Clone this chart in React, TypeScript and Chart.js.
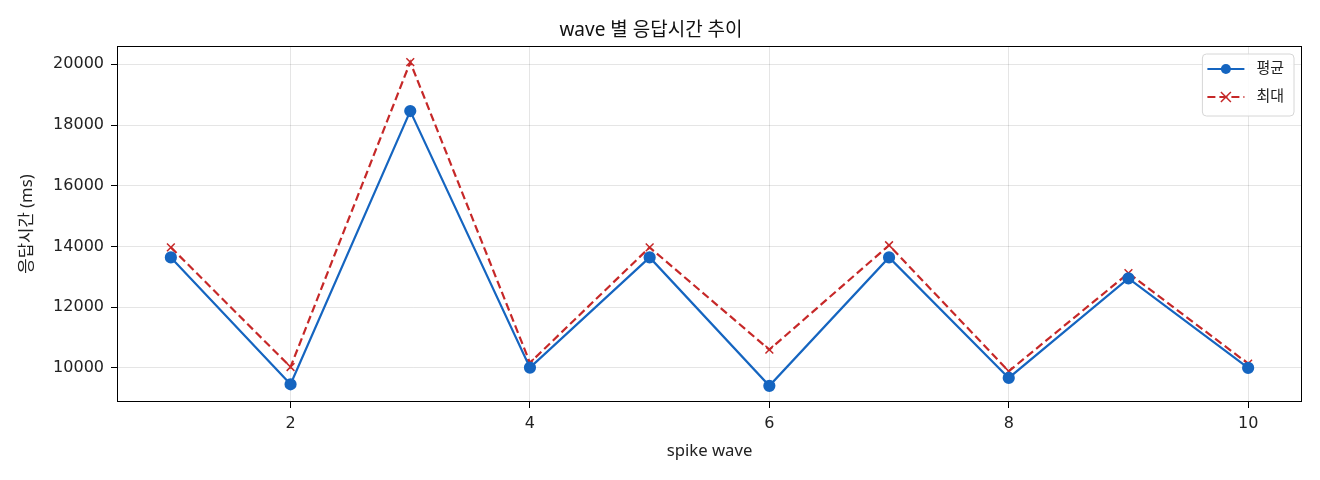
import { useEffect, useRef } from 'react';
import { Chart, registerables, ChartConfiguration, Plugin } from 'chart.js';

Chart.register(...registerables);

// wave numbers on the x axis
const waves = [1, 2, 3, 4, 5, 6, 7, 8, 9, 10];
// 평균 / 최대 응답시간 (ms)
const avgMs = [13640, 9460, 18460, 10010, 13640, 9410, 13640, 9670, 12950, 10000];
const maxMs = [13970, 10030, 20070, 10170, 13970, 10600, 14040, 9890, 13120, 10140];
const xTicks = [2, 4, 6, 8, 10];
const yTicks = [10000, 12000, 14000, 16000, 18000, 20000];

const FONT = "'Noto Sans', 'Noto Sans CJK KR', sans-serif";
const TICK_FONT = "'DejaVu Sans', sans-serif";
const BLUE = '#1565c0';
const RED = '#c62828';

// spines on all four sides + matplotlib style legend box
const framePlugin: Plugin<'line'> = {
  id: 'frame',
  afterDraw(chart) {
    const { ctx, chartArea } = chart;
    ctx.save();
    ctx.strokeStyle = '#000';
    ctx.lineWidth = 1;
    ctx.strokeRect(chartArea.left + 0.5, chartArea.top + 0.5, chartArea.width - 1, chartArea.height - 1);

    // legend
    ctx.font = `15px ${FONT}`;
    const items = chart.data.datasets;
    const textW = Math.max(...items.map(d => ctx.measureText(String(d.label)).width));
    const boxW = 5 + 37 + 12 + textW + 10;
    const boxH = 62;
    const bx = chartArea.right - 8 - boxW;
    const by = chartArea.top + 8;
    ctx.fillStyle = 'rgba(255,255,255,0.85)';
    ctx.strokeStyle = '#d6d6d6';
    ctx.beginPath();
    ctx.roundRect(bx, by, boxW, boxH, 4);
    ctx.fill();
    ctx.stroke();

    items.forEach((d: any, i) => {
      const cy = by + 15 + i * 28;
      const x0 = bx + 5;
      const x1 = x0 + 37;
      ctx.strokeStyle = d.borderColor;
      ctx.lineWidth = 2.2;
      ctx.setLineDash(d.borderDash || []);
      ctx.beginPath();
      ctx.moveTo(x0, cy);
      ctx.lineTo(x1, cy);
      ctx.stroke();
      ctx.setLineDash([]);
      const mx = (x0 + x1) / 2;
      if (d.pointStyle === 'crossRot') {
        ctx.lineWidth = 1.5;
        ctx.beginPath();
        ctx.moveTo(mx - 5, cy - 5);
        ctx.lineTo(mx + 5, cy + 5);
        ctx.moveTo(mx + 5, cy - 5);
        ctx.lineTo(mx - 5, cy + 5);
        ctx.stroke();
      } else {
        ctx.fillStyle = d.pointBackgroundColor;
        ctx.beginPath();
        ctx.arc(mx, cy, 5, 0, Math.PI * 2);
        ctx.fill();
      }
      ctx.fillStyle = '#222';
      ctx.textBaseline = 'middle';
      ctx.textAlign = 'left';
      ctx.fillText(String(d.label), x1 + 12, cy);
    });
    ctx.restore();
  },
};

const App = () => {
  const chartRef = useRef<HTMLCanvasElement>(null);

  useEffect(() => {
    document.body.style.margin = '0';
    if (!chartRef.current) return;
    const ctx = chartRef.current.getContext('2d');
    if (!ctx) return;

    const config: ChartConfiguration<'line'> = {
      type: 'line',
      data: {
        datasets: [
          {
            label: '평균',
            data: waves.map((w, i) => ({ x: w, y: avgMs[i] })),
            borderColor: BLUE,
            backgroundColor: BLUE,
            pointBackgroundColor: BLUE,
            pointBorderColor: BLUE,
            pointRadius: 5,
            pointStyle: 'circle',
            borderWidth: 2.2,
            fill: false,
          },
          {
            label: '최대',
            data: waves.map((w, i) => ({ x: w, y: maxMs[i] })),
            borderColor: RED,
            backgroundColor: RED,
            pointBorderColor: RED,
            pointBorderWidth: 1.5,
            pointRadius: 5.5,
            pointStyle: 'crossRot',
            borderWidth: 2.2,
            borderDash: [8, 4],
            fill: false,
          },
        ],
      },
      options: {
        animation: false,
        responsive: true,
        maintainAspectRatio: false,
        layout: { padding: { left: 0, right: 18, top: 0, bottom: 0 } },
        plugins: {
          legend: { display: false },
          tooltip: { enabled: false },
          title: {
            display: true,
            text: 'wave 별 응답시간 추이',
            color: '#111',
            font: { family: FONT, size: 19, weight: 'normal' },
            padding: { top: 19, bottom: 4.2 },
          },
        },
        scales: {
          x: {
            type: 'linear',
            min: 0.55,
            max: 10.45,
            afterBuildTicks: (s) => { s.ticks = xTicks.map(v => ({ value: v })); },
            afterFit: (s) => { s.height = 78; },
            ticks: { color: '#222', font: { family: TICK_FONT, size: 16 }, padding: 6 },
            grid: { color: 'rgba(0,0,0,0.1)', tickColor: '#000', tickLength: 6 },
            border: { display: false },
            title: {
              display: true,
              text: 'spike wave',
              color: '#222',
              font: { family: FONT, size: 16.7 },
              padding: { top: 0, bottom: 19 },
            },
          },
          y: {
            min: 8877,
            max: 20603,
            afterBuildTicks: (s) => { s.ticks = yTicks.map(v => ({ value: v })); },
            afterFit: (s) => { s.width = 117; },
            ticks: {
              color: '#222',
              font: { family: TICK_FONT, size: 16 },
              padding: 7,
              callback: (v) => String(v),
            },
            grid: { color: 'rgba(0,0,0,0.1)', tickColor: '#000', tickLength: 6 },
            border: { display: false },
            title: {
              display: true,
              text: '응답시간 (ms)',
              color: '#222',
              font: { family: FONT, size: 16.7 },
              padding: { top: 17, bottom: 0 },
            },
          },
        },
      },
      plugins: [framePlugin],
    };

    const chart = new Chart(ctx, config);
    return () => chart.destroy();
  }, []);

  return (
    <div style={{ position: 'absolute', left: 0, top: 0, width: 1320, height: 480 }}>
      <canvas ref={chartRef}></canvas>
    </div>
  );
};

export default App;
